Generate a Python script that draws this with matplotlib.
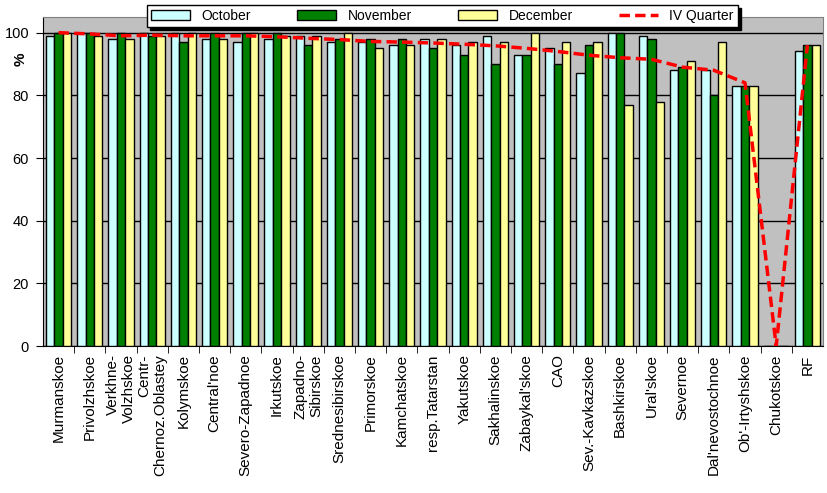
import matplotlib
matplotlib.use('Agg')
import matplotlib.pyplot as plt
import numpy as np
from matplotlib.patches import Patch
from matplotlib.lines import Line2D

plt.rcParams['font.family'] = ['Liberation Sans', 'DejaVu Sans']

regions = ['Murmanskoe', 'Privolzhskoe', 'Verkhne-\nVolzhskoe', 'Centr-\nChernoz.Oblastey',
           'Kolymskoe', "Central'noe", 'Severo-Zapadnoe', 'Irkutskoe', 'Zapadno-\nSibirskoe',
           'Srednesibirskoe', 'Primorskoe', 'Kamchatskoe', 'resp.Tatarstan', 'Yakutskoe',
           'Sakhalinskoe', "Zabaykal'skoe", 'CAO', 'Sev.-Kavkazskoe', 'Bashkirskoe',
           "Ural'skoe", 'Severnoe', "Dal'nevostochnoe", "Ob'-Irtyshskoe", 'Chukotskoe', 'RF']

october = [99, 100, 98, 100, 100, 98, 97, 98, 99, 97, 97, 96, 98, 96, 99, 93, 95, 87, 100, 99, 88, 88, 83, 0, 94]
november = [100, 100, 100, 99, 97, 100, 100, 100, 96, 98, 98, 98, 95, 93, 90, 93, 90, 96, 100, 98, 89, 80, 83, 0, 96]
december = [100, 99, 98, 99, 100, 98, 100, 99, 99, 100, 95, 96, 98, 97, 97, 100, 97, 97, 77, 78, 91, 97, 83, 0, 96]
quarter = [100, 99.6, 99, 99.2, 99, 99, 99, 98.7, 98.2, 97.8, 97.2, 97, 96.7, 96.3, 95.8, 95, 94,
           92.8, 92, 91.5, 89, 88, 84, 0, 96]

x = np.arange(len(regions))
w = 0.27

fig = plt.figure(figsize=(8.28, 4.93), dpi=100)
ax = fig.add_axes([43 / 828, 1 - 346 / 493, 780 / 828, 329 / 493])
ax.set_facecolor('#C0C0C0')

ax.bar(x - w, october, w, color='#CCFFFF', edgecolor='black', linewidth=1, zorder=3)
ax.bar(x, november, w, color='#008000', edgecolor='black', linewidth=1, zorder=3)
ax.bar(x + w, december, w, color='#FFFF99', edgecolor='black', linewidth=1, zorder=3)
ax.plot(x, quarter, color='#FF0000', linewidth=2.5, dashes=(3, 1.5), zorder=4)

ax.set_xlim(-0.5, len(regions) - 0.5)
ax.set_ylim(0, 105)
ax.set_yticks([0, 20, 40, 60, 80, 100])
ax.yaxis.grid(True, color='black', linewidth=1)
ax.set_axisbelow(True)

ax.set_xticks(x)
ax.set_xticklabels(regions, rotation=90, fontsize=11, multialignment='right')
ax.set_xticks(x[:-1] + 0.5, minor=True)
ax.tick_params(axis='x', which='major', length=0, pad=6)
ax.tick_params(axis='x', which='minor', length=5, direction='out', color='black')
ax.tick_params(axis='y', length=5, direction='out', labelsize=10.5, pad=5)

for s in ['top', 'right']:
    ax.spines[s].set_color('#808080')
for s in ['left', 'bottom']:
    ax.spines[s].set_color('black')

fig.text(21 / 828, 1 - 59 / 493, '%', fontsize=11, fontweight='bold', rotation=90,
         ha='center', va='center')

handles = [Patch(facecolor='#CCFFFF', edgecolor='black'),
           Patch(facecolor='#008000', edgecolor='black'),
           Patch(facecolor='#FFFF99', edgecolor='black'),
           Line2D([], [], color='#FF0000', linewidth=2.5, dashes=(3, 1.5))]
leg = fig.legend(handles, ['October', 'November', 'December', 'IV Quarter'],
                 loc='upper left', bbox_to_anchor=(147 / 828, 1 - 5 / 493, 591 / 828, 0),
                 mode='expand', ncol=4, fontsize=10, handlelength=2.8, handleheight=0.7,
                 borderpad=0.3, borderaxespad=0, fancybox=False, edgecolor='black',
                 framealpha=1, shadow={'color': 'black', 'alpha': 1})
leg.get_frame().set_linewidth(1)

fig.savefig('out.png', dpi=100)
